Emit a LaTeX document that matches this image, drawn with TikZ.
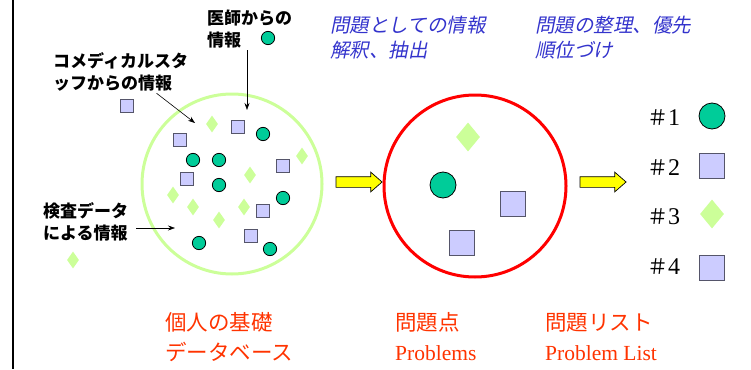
\documentclass[tikz,border=0pt]{standalone}
\usepackage{fontspec}
\setmainfont{Liberation Serif}
\newfontfamily\jpfont{Noto Sans CJK JP}
\newfontfamily\jpslant{Noto Sans CJK JP}[FakeSlant=0.2]
\usepackage{tikz}
\usetikzlibrary{shapes.geometric, shapes.arrows, arrows.meta, positioning, calc}

\definecolor{dotgreen}{HTML}{00CC99}
\definecolor{sqblue}{HTML}{CCCCFF}
\definecolor{sqedge}{HTML}{55556A}
\definecolor{diagreen}{HTML}{CCFF99}
\definecolor{ringred}{HTML}{FF0000}
\definecolor{textred}{HTML}{FF3300}
\definecolor{textblue}{HTML}{3333CC}
\definecolor{fatyellow}{HTML}{FFFF00}

\begin{document}
\begin{tikzpicture}[x=1pt, y=-1pt,
    dotc/.style={circle, draw=black, line width=0.8pt, fill=dotgreen, inner sep=0pt, minimum size=13.3pt},
    dotsq/.style={rectangle, draw=sqedge, line width=0.8pt, fill=sqblue, inner sep=0pt, minimum size=13.3pt},
    dotdia/.style={diamond, fill=diagreen, inner sep=0pt, minimum width=12pt, minimum height=17pt},
    bigc/.style={dotc, minimum size=26pt},
    bigsq/.style={dotsq, minimum size=25.5pt},
    bigdia/.style={dotdia, minimum width=24pt, minimum height=29pt},
    ring/.style={circle, line width=3pt, inner sep=0pt},
    fatarrow/.style={single arrow, draw=black, line width=0.7pt, fill=fatyellow, inner xsep=0pt, inner ysep=5pt,
        minimum width=19pt, minimum height=46pt, single arrow head extend=4.5pt, single arrow tip angle=82},
    srclabel/.style={anchor=west, align=left, inner sep=2pt, font=\jpfont\bfseries\fontsize{17}{21.5}\selectfont},
    steplabel/.style={anchor=west, align=left, inner sep=0pt, text=textblue, font=\jpslant\fontsize{19.5}{25}\selectfont},
    titlelabel/.style={anchor=west, align=left, inner sep=0pt, text=textred, font=\fontsize{21.5}{30}\selectfont},
    ranklabel/.style={anchor=west, inner sep=0pt, font=\fontsize{24}{24}\selectfont},
    infoarrow/.style={-{Stealth[length=7pt, width=5pt]}, line width=0.6pt}]
    \useasboundingbox (0,0) rectangle (751,369);
    % Left rule
    \draw[line width=1.2pt] (13,0) -- (13,369);
    % Rings
    \node[ring, draw=diagreen, minimum size=180pt] (base) at (232,184) {};
    \node[ring, draw=ringred, minimum size=182pt] (probs) at (475,186) {};
    % Yellow arrows
    \node[fatarrow] (arrA) at (356,182) {};
    \node[fatarrow] (arrB) at (600,182) {};
    % Top captions
    \node[steplabel] (stepA) at (330,37.5) {問題としての情報\\解釈、抽出};
    \node[steplabel] (stepB) at (535,37.5) {問題の整理、優先\\順位づけ};
    % Source labels
    \node[srclabel] (doctor) at (205,29) {医師からの\\情報};
    \node[srclabel] (staff) at (51,72) {コメディカルスタ\\ッフからの情報};
    \node[srclabel] (exam) at (41,222) {検査データ\\による情報};
    \coordinate (docend) at (247,110);
    \coordinate (staffend) at (195,123);
    \coordinate (examend) at (175,228);
    \draw[infoarrow] (doctor.south -| docend) -- (docend);
    \draw[infoarrow] ([xshift=36pt]staff.south) -- (staffend);
    \draw[infoarrow] ([xshift=6pt]exam.east |- examend) -- (examend);
    % Scattered data
    \node[dotc] (c0) at (268,38) {};
    \node[dotsq] (s0) at (127,106) {};
    \node[dotdia] (d0) at (73,260) {};
    \node[dotdia] (d1) at (212,124) {};
    \node[dotsq] (s1) at (238,127) {};
    \node[dotc] (c1) at (263,134) {};
    \node[dotsq] (s2) at (180,140) {};
    \node[dotc] (c2) at (193,160) {};
    \node[dotc] (c3) at (219,160) {};
    \node[dotdia] (d2) at (302,156) {};
    \node[dotsq] (s3) at (283,166) {};
    \node[dotsq] (s4) at (187,179) {};
    \node[dotdia] (d3) at (250,175) {};
    \node[dotc] (c4) at (219,185) {};
    \node[dotdia] (d4) at (173,195) {};
    \node[dotc] (c5) at (283,198) {};
    \node[dotdia] (d5) at (193,207) {};
    \node[dotdia] (d6) at (244,207) {};
    \node[dotsq] (s5) at (263,211) {};
    \node[dotdia] (d7) at (219,220) {};
    \node[dotsq] (s6) at (251,236) {};
    \node[dotc] (c6) at (199,243) {};
    \node[dotc] (c7) at (270,249) {};
    % Extracted problems
    \node[bigdia] (pd) at (468,137) {};
    \node[bigc] (pc) at (443,185) {};
    \node[bigsq] (ps1) at (513,204) {};
    \node[bigsq] (ps2) at (462,243) {};
    % Ranked list
    \node[ranklabel] (r1) at (647,118) {{\jpfont\fontsize{21}{21}\selectfont ＃}1};
    \node[ranklabel] (r2) at (647,168) {{\jpfont\fontsize{21}{21}\selectfont ＃}2};
    \node[ranklabel] (r3) at (647,217) {{\jpfont\fontsize{21}{21}\selectfont ＃}3};
    \node[ranklabel] (r4) at (647,267) {{\jpfont\fontsize{21}{21}\selectfont ＃}4};
    \node[bigc] (l1) at (712,116) {};
    \node[bigsq] (l2) at (712,166) {};
    \node[bigdia] (l3) at (712,214) {};
    \node[bigsq] (l4) at (712,268) {};
    % Bottom titles
    \node[titlelabel] (tBase) at (165,337) {{\jpfont 個人の基礎}\\{\jpfont データベース}};
    \node[titlelabel] (tProbs) at (395,337) {{\jpfont 問題点}\\Problems};
    \node[titlelabel] (tList) at (545,337) {{\jpfont 問題リスト}\\Problem List};
\end{tikzpicture}
\end{document}
